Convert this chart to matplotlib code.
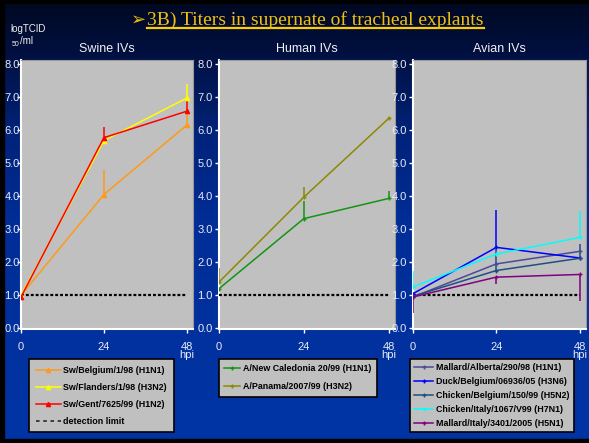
import numpy as np
import matplotlib
matplotlib.use("Agg")
import matplotlib.pyplot as plt
from matplotlib.colors import LinearSegmentedColormap
from matplotlib.lines import Line2D
from matplotlib.patches import Rectangle

plt.rcParams['font.family'] = ['Liberation Sans', 'DejaVu Sans']

# sampling times (hours post inoculation)
hpi = [0, 24, 48]

# swine viruses
sw_names = ["Sw/Belgium/1/98 (H1N1)", "Sw/Flanders/1/98 (H3N2)", "Sw/Gent/7625/99 (H1N2)"]
sw_belgium = [1.0, 4.05, 6.15]
sw_flanders = [1.0, 5.68, 6.97]
sw_gent = [0.95, 5.77, 6.57]
sw_err_up = [[0, 0.75, 0.35], [0, 0, 0.43], [0, 0.33, 0.35]]
sw_err_down = [[0, 0, 0], [0, 0, 0], [0.08, 0, 0]]

# human viruses
hu_names = ["A/New Caledonia 20/99 (H1N1)", "A/Panama/2007/99 (H3N2)"]
hu_caledonia = [1.2, 3.32, 3.93]
hu_panama = [1.4, 3.97, 6.35]
hu_err_up = [[0, 0.53, 0.24], [0.43, 0.3, 0.05]]
hu_err_down = [[0, 0, 0], [0, 0, 0]]

# avian viruses
av_names = ["Mallard/Alberta/290/98 (H1N1)", "Duck/Belgium/06936/05 (H3N6)",
            "Chicken/Belgium/150/99 (H5N2)", "Chicken/Italy/1067/V99 (H7N1)",
            "Mallard/Italy/3401/2005 (H5N1)"]
av_alberta = [0.95, 1.95, 2.33]
av_duck = [1.05, 2.45, 2.13]
av_chicken_be = [0.97, 1.75, 2.12]
av_chicken_it = [1.25, 2.25, 2.75]
av_mallard_it = [0.95, 1.55, 1.63]
av_err_up = [[0, 0, 0], [0, 1.12, 0], [0, 0.65, 0.42], [0.5, 0, 0.8], [0, 0, 0]]
av_err_down = [[0, 0, 0], [0, 0, 0], [0, 0, 0], [0, 0, 0], [0.5, 0.2, 0.8]]

detection_limit = 1.0
yticks = [0, 1, 2, 3, 4, 5, 6, 7, 8]

W, H = 589, 443
fig = plt.figure(figsize=(W / 100, H / 100), dpi=100)

# slide background: dark navy at the top fading into royal blue
bg = fig.add_axes([0, 0, 1, 1], zorder=-5)
cmap = LinearSegmentedColormap.from_list(
    "slide", [(0, "#000820"), (0.12, "#001040"), (0.3, "#00237a"),
              (0.5, "#002d96"), (1.0, "#0035a6")])
grad = np.linspace(0, 1, 256).reshape(-1, 1)
bg.imshow(grad, aspect="auto", cmap=cmap, extent=[0, 1, 0, 1], origin="upper")
bg.set_axis_off()


def panel(x0, x1, title, ypad=1.5):
    ax = fig.add_axes([x0 / W, 1 - 329 / H, (x1 - x0) / W, 269 / H])
    ax.set_facecolor("#c0c0c0")
    ax.set_xlim(0, 49.8)
    ax.set_ylim(-0.02, 8.12)
    ax.set_yticks(yticks)
    ax.set_yticklabels([f"{v:.1f}" for v in yticks])
    ax.set_xticks(hpi)
    ax.set_xticklabels(["0", "24", "48\nhpi"], linespacing=0.75)
    ax.tick_params(colors="white", labelcolor="#e8ecf8", labelsize=8,
                   length=3, width=1)
    ax.tick_params(axis="y", pad=ypad)
    ax.tick_params(axis="x", pad=6)
    for s in ("left", "bottom"):
        ax.spines[s].set_color("white")
        ax.spines[s].set_linewidth(1.5)
    for s in ("top", "right"):
        ax.spines[s].set_color("#9a9a9a")
        ax.spines[s].set_linewidth(0.8)
    ax.set_title(title, color="#f2f2f2", fontsize=9, pad=6)
    ax.plot([0, 48], [detection_limit] * 2, color="black", lw=1.6,
            dashes=(1.3, 0.9), zorder=3)
    return ax


def series(ax, y, up, down, color, marker, ms):
    ax.errorbar(hpi, y, yerr=[down, up], color=color, lw=1.1, elinewidth=1.1,
                capsize=0, marker=marker, ms=ms, mew=1, zorder=4)


ax_sw = panel(21, 193, "Swine IVs", ypad=-2.2)
ax_hu = panel(219, 395, "Human IVs")
ax_av = panel(413, 586, "Avian IVs")

sw_colors = ["#ff9a1a", "#ffff00", "#ff0000"]
for y, up, dn, c in zip([sw_belgium, sw_flanders, sw_gent], sw_err_up, sw_err_down, sw_colors):
    series(ax_sw, y, up, dn, c, "^", 3)

hu_colors = ["#139413", "#8a8a00"]
for y, up, dn, c in zip([hu_caledonia, hu_panama], hu_err_up, hu_err_down, hu_colors):
    series(ax_hu, y, up, dn, c, "+", 3)

av_colors = ["#4a4a9a", "#0000ff", "#1f4f80", "#00ffff", "#800080"]
av_data = [av_alberta, av_duck, av_chicken_be, av_chicken_it, av_mallard_it]
for y, up, dn, c in zip(av_data, av_err_up, av_err_down, av_colors):
    series(ax_av, y, up, dn, c, "+", 3)

# legends below each panel
leg_kw = dict(loc="upper left", borderaxespad=0, fancybox=False, framealpha=1,
              facecolor="#c0c0c0", edgecolor="black",
              prop={"weight": "bold", "size": 6.4})

sw_handles = [Line2D([], [], color=c, lw=1.1, marker="^", ms=3) for c in sw_colors]
sw_handles.append(Line2D([], [], color="#333333", lw=1.3, dashes=(2, 2)))
leg = fig.legend(sw_handles, sw_names + ["detection limit"],
                 bbox_to_anchor=(29 / W, 1 - 359 / H), handlelength=2.8,
                 handletextpad=0.3, labelspacing=0.9, borderpad=0.75, **leg_kw)
leg.get_frame().set_linewidth(1.2)

hu_handles = [Line2D([], [], color=c, lw=1.1, marker="+", ms=3) for c in hu_colors]
leg = fig.legend(hu_handles, hu_names, bbox_to_anchor=(219 / W, 1 - 359 / H),
                 handlelength=1.8, handletextpad=0.3, labelspacing=1.0,
                 borderpad=0.6, **leg_kw)
leg.get_frame().set_linewidth(1.2)

av_handles = [Line2D([], [], color=c, lw=1.1, marker="+", ms=3) for c in av_colors]
leg = fig.legend(av_handles, av_names, bbox_to_anchor=(410 / W, 1 - 359 / H),
                 handlelength=2.1, handletextpad=0.3, labelspacing=0.55,
                 borderpad=0.5, **leg_kw)
leg.get_frame().set_linewidth(1.2)

# y axis unit
fig.text(10 / W, 1 - 32 / H, "logTCID", color="#f0f0f0", fontsize=7, va="baseline")
fig.text(12 / W, 1 - 46 / H, "50", color="#f0f0f0", fontsize=5, va="baseline")
fig.text(20 / W, 1 - 44 / H, "/ml", color="#f0f0f0", fontsize=7, va="baseline")

# slide heading
gold = "#f0c010"
fig.text(131 / W, 1 - 25 / H, "➢", color=gold, fontsize=13, va="baseline",
         family="DejaVu Sans")
head = fig.text(147 / W, 1 - 25 / H, "3B) Titers in supernate of tracheal explants",
                color=gold, fontsize=14, va="baseline", family="Liberation Serif")
fig.canvas.draw()
bb = head.get_window_extent().transformed(fig.transFigure.inverted())
fig.add_artist(Line2D([bb.x0, bb.x1], [1 - 28 / H] * 2, color="#ffcc00", lw=1.6))

# black slide border
for r in [(0, 0, 4 / W, 1), (0, 1 - 3 / H, 1, 3 / H), (0, 0, 1, 4 / H)]:
    fig.add_artist(Rectangle(r[:2], r[2], r[3], transform=fig.transFigure,
                             color="black", zorder=20))

fig.savefig("out.png", dpi=100)
